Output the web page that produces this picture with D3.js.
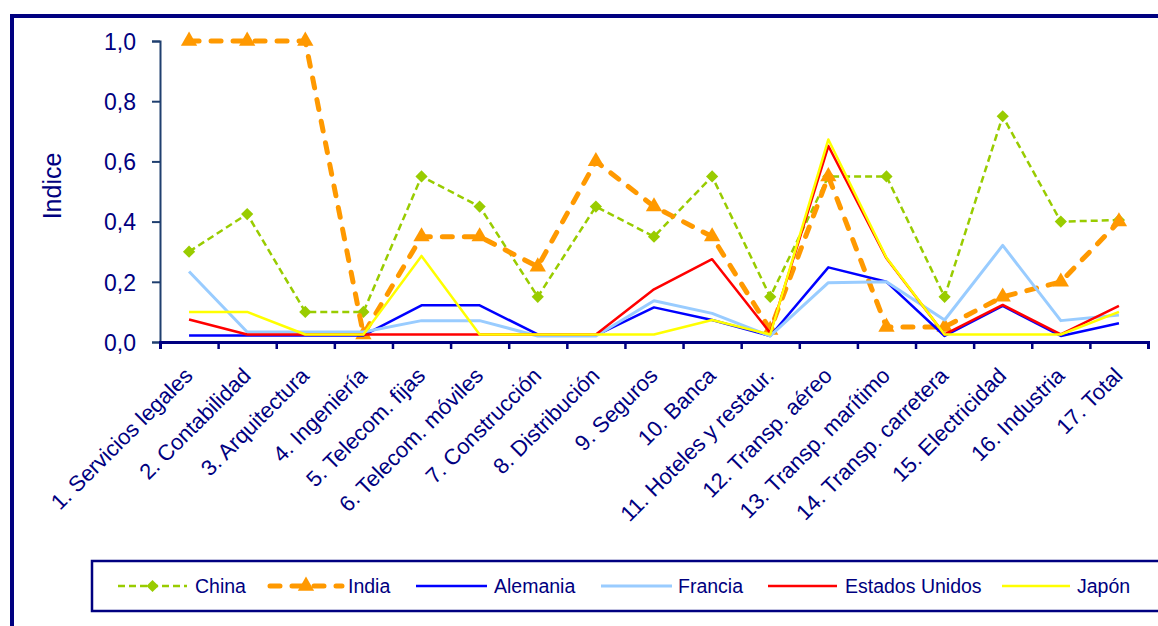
<!DOCTYPE html>
<html>
<head>
<meta charset="utf-8">
<script src="https://cdn.jsdelivr.net/npm/d3@7"></script>
<style>
  html, body { margin: 0; padding: 0; background: #fff; }
  svg { display: block; }
  text { font-family: "Liberation Sans", Arial, sans-serif; fill: #000080; }
</style>
</head>
<body>
<svg id="chart" width="1158" height="626"></svg>
<script>
// Sector categories (x axis)
const categories = [
  "1. Servicios legales", "2. Contabilidad", "3. Arquitectura", "4. Ingeniería",
  "5. Telecom. fijas", "6. Telecom. móviles", "7. Construcción", "8. Distribución",
  "9. Seguros", "10. Banca", "11. Hoteles y restaur.", "12. Transp. aéreo",
  "13. Transp. marítimo", "14. Transp. carretera", "15. Electricidad", "16. Industria",
  "17. Total"
];

// Restrictiveness index by country
const china   = [0.30, 0.425, 0.10, 0.10, 0.55, 0.45, 0.15, 0.45, 0.35, 0.55, 0.15, 0.55, 0.55, 0.15, 0.75, 0.40, 0.405];
const india   = [1.00, 1.00, 1.00, 0.025, 0.35, 0.35, 0.25, 0.60, 0.45, 0.35, 0.04, 0.55, 0.05, 0.05, 0.15, 0.20, 0.40];
const alemania = [0.022, 0.022, 0.022, 0.022, 0.122, 0.122, 0.025, 0.022, 0.115, 0.073, 0.02, 0.248, 0.20, 0.02, 0.12, 0.02, 0.062];
const francia = [0.234, 0.033, 0.033, 0.033, 0.071, 0.071, 0.02, 0.02, 0.137, 0.095, 0.02, 0.197, 0.20, 0.073, 0.321, 0.071, 0.09];
const eeuu    = [0.075, 0.025, 0.025, 0.025, 0.025, 0.025, 0.025, 0.025, 0.175, 0.275, 0.03, 0.651, 0.278, 0.025, 0.123, 0.025, 0.12];
const japon   = [0.10, 0.10, 0.025, 0.025, 0.286, 0.025, 0.025, 0.025, 0.025, 0.073, 0.025, 0.673, 0.28, 0.025, 0.025, 0.025, 0.10];

// Y axis ticks
const yTicks = [0, 0.2, 0.4, 0.6, 0.8, 1.0];

const series = [
  { name: "China",          values: china,    color: "#99CC00", width: 2.5, dash: "7,4",   cap: "butt",  marker: "diamond" },
  { name: "India",          values: india,    color: "#FF9900", width: 5,   dash: "10,12", cap: "round", marker: "triangle" },
  { name: "Alemania",       values: alemania, color: "#0000FF", width: 2.5, dash: null,    cap: "butt",  marker: null },
  { name: "Francia",        values: francia,  color: "#99CCFF", width: 3,   dash: null,    cap: "butt",  marker: null },
  { name: "Estados Unidos", values: eeuu,     color: "#FF0000", width: 2.5, dash: null,    cap: "butt",  marker: null },
  { name: "Japón",          values: japon,    color: "#FFFF00", width: 2.5, dash: null,    cap: "butt",  marker: null }
];

const svg = d3.select("#chart");
const navy = "#000080";

// Outer frame (left and top rules)
svg.append("line").attr("x1", 12).attr("x2", 12).attr("y1", 14).attr("y2", 626)
  .attr("stroke", navy).attr("stroke-width", 4);
svg.append("line").attr("x1", 10).attr("x2", 1158).attr("y1", 16).attr("y2", 16)
  .attr("stroke", navy).attr("stroke-width", 4);

// Scales
const x = d3.scaleBand().domain(categories).range([160, 1148]).padding(0);
const xc = d => x(d) + x.bandwidth() / 2;
const y = d3.scaleLinear().domain([0, 1]).range([342, 41]);

// Y axis
const yAxis = svg.append("g").attr("transform", "translate(160,0)")
  .call(d3.axisLeft(y).tickValues(yTicks).tickSize(8).tickPadding(16)
    .tickFormat(d => d3.format(".1f")(d).replace(".", ",")));
yAxis.select(".domain").attr("stroke", "#1F3F6F").attr("stroke-width", 2);
yAxis.selectAll(".tick line").attr("stroke", "#1F3F6F").attr("stroke-width", 2);
yAxis.selectAll(".tick text").style("font-size", "23px").attr("fill", navy).attr("dy", "0.36em");

svg.append("text")
  .attr("transform", "translate(52,186) rotate(-90)")
  .attr("text-anchor", "middle")
  .attr("dy", "0.36em")
  .style("font-size", "25px")
  .text("Indice");

// X axis with ticks at category boundaries
const bounds = d3.range(categories.length + 1);
const xb = d3.scaleLinear().domain([0, categories.length]).range([160, 1148]);
const xAxis = svg.append("g").attr("transform", "translate(0,342)");
xAxis.call(d3.axisBottom(xb).tickValues(bounds).tickSize(7).tickFormat(""));
xAxis.select(".domain").attr("stroke", navy).attr("stroke-width", 3);
xAxis.selectAll(".tick line").attr("stroke", navy).attr("stroke-width", 2.5);

// Category labels
svg.append("g").selectAll("text").data(categories).join("text")
  .attr("transform", d => `translate(${xc(d) + 5},377) rotate(-45)`)
  .attr("text-anchor", "end")
  .style("font-size", "22px")
  .text(d => d);

// Series lines
const line = d3.line().x((v, i) => xc(categories[i])).y(v => y(v));
const plot = svg.append("g");
const markerSymbol = m => m === "diamond"
  ? d3.symbol().type(d3.symbolDiamond2).size(95)
  : d3.symbol().type(d3.symbolTriangle).size(115);
series.forEach(s => {
  const g = plot.append("g");
  g.append("path").datum(s.values)
    .attr("d", line)
    .attr("fill", "none")
    .attr("stroke", s.color)
    .attr("stroke-width", s.width)
    .attr("stroke-dasharray", s.dash)
    .attr("stroke-linecap", s.cap)
    .attr("stroke-linejoin", "round");
  if (s.marker) {
    g.selectAll("path.m").data(s.values).join("path").attr("class", "m")
      .attr("transform", (v, i) => `translate(${xc(categories[i])},${y(v)})`)
      .attr("d", markerSymbol(s.marker))
      .attr("fill", s.color);
  }
});

// Legend
const legend = svg.append("g");
legend.append("rect").attr("x", 92).attr("y", 561).attr("width", 1100).attr("height", 50)
  .attr("fill", "#fff").attr("stroke", navy).attr("stroke-width", 2.5);
const legendPos = [
  { x1: 118, x2: 187, tx: 195 },
  { x1: 270, x2: 342, tx: 348 },
  { x1: 416, x2: 487, tx: 494 },
  { x1: 601, x2: 672, tx: 678 },
  { x1: 768, x2: 837, tx: 845 },
  { x1: 1002, x2: 1070, tx: 1077 }
];
series.forEach((s, k) => {
  const p = legendPos[k];
  const ly = 586;
  legend.append("line").attr("x1", p.x1).attr("x2", p.x2).attr("y1", ly).attr("y2", ly)
    .attr("stroke", s.color).attr("stroke-width", s.width)
    .attr("stroke-dasharray", s.dash).attr("stroke-linecap", s.cap);
  if (s.marker) {
    legend.append("path").attr("transform", `translate(${(p.x1 + p.x2) / 2},${ly})`)
      .attr("d", markerSymbol(s.marker)).attr("fill", s.color);
  }
  legend.append("text").attr("x", p.tx).attr("y", ly).attr("dy", "0.35em")
    .style("font-size", "19.5px").text(s.name);
});
</script>
</body>
</html>
